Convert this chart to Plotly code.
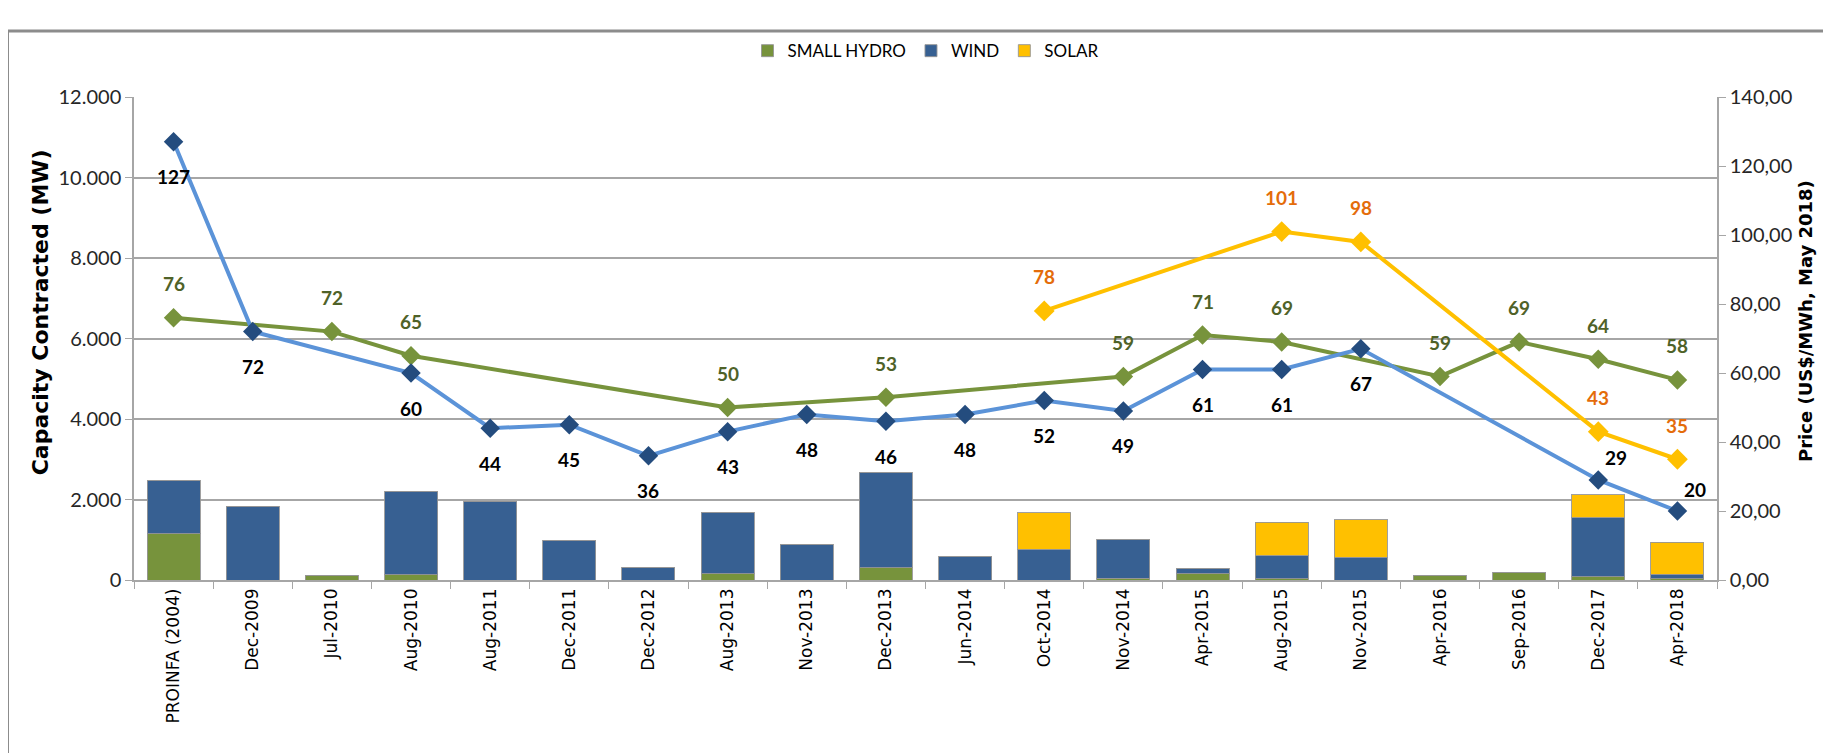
import plotly.graph_objects as go

categories = ["PROINFA (2004)", "Dec-2009", "Jul-2010", "Aug-2010", "Aug-2011", "Dec-2011",
              "Dec-2012", "Aug-2013", "Nov-2013", "Dec-2013", "Jun-2014", "Oct-2014",
              "Nov-2014", "Apr-2015", "Aug-2015", "Nov-2015", "Apr-2016", "Sep-2016",
              "Dec-2017", "Apr-2018"]

# Contracted capacity (MW)
hydro_mw = [1150, 0, 100, 130, 0, 0, 0, 155, 0, 300, 0, 0, 40, 160, 30, 0, 100, 180, 75, 35]
wind_mw = [1310, 1830, 0, 2070, 1960, 990, 300, 1530, 880, 2370, 580, 770, 960, 115, 570, 560, 0, 0, 1470, 110]
solar_mw = [0, 0, 0, 0, 0, 0, 0, 0, 0, 0, 0, 900, 0, 0, 830, 940, 0, 0, 570, 795]

# Prices (US$/MWh, May 2018)
wind_price = [127, 72, None, 60, 44, 45, 36, 43, 48, 46, 48, 52, 49, 61, 61, 67, None, None, 29, 20]
hydro_price = [76, None, 72, 65, None, None, None, 50, None, 53, None, None, 59, 71, 69, None, 59, 69, 64, 58]
solar_price = [None, None, None, None, None, None, None, None, None, None, None, 78, None, None, 101, 98, None, None, 43, 35]

left_ticks = [0, 2000, 4000, 6000, 8000, 10000, 12000]
left_ticktext = ["0", "2.000", "4.000", "6.000", "8.000", "10.000", "12.000"]
right_ticks = [0, 20, 40, 60, 80, 100, 120, 140]
right_ticktext = ["0,00", "20,00", "40,00", "60,00", "80,00", "100,00", "120,00", "140,00"]

GREEN = "#77933C"
NAVY = "#376092"
GOLD = "#FFC000"
LINE_BLUE = "#5B93D8"
MARK_BLUE = "#244C7E"
LBL_GREEN = "#4F6228"
LBL_ORANGE = "#E46C0A"

label_font = "Lato"
title_font = "DejaVu Sans"

fig = go.Figure()

bar_edge = dict(color="rgba(150,150,150,0.9)", width=1)
fig.add_trace(go.Bar(x=categories, y=hydro_mw, name="SMALL HYDRO", marker=dict(color=GREEN, line=bar_edge)))
fig.add_trace(go.Bar(x=categories, y=wind_mw, name="WIND", marker=dict(color=NAVY, line=bar_edge)))
fig.add_trace(go.Bar(x=categories, y=solar_mw, name="SOLAR", marker=dict(color=GOLD, line=bar_edge)))

fig.add_trace(go.Scatter(x=categories, y=hydro_price, yaxis="y2", mode="lines+markers", connectgaps=True,
                         line=dict(color=GREEN, width=4),
                         marker=dict(symbol="diamond", size=15, color=GREEN),
                         showlegend=False, hoverinfo="skip"))
fig.add_trace(go.Scatter(x=categories, y=wind_price, yaxis="y2", mode="lines+markers", connectgaps=True,
                         line=dict(color=LINE_BLUE, width=4),
                         marker=dict(symbol="diamond", size=15, color=MARK_BLUE),
                         showlegend=False, hoverinfo="skip"))
fig.add_trace(go.Scatter(x=categories, y=solar_price, yaxis="y2", mode="lines+markers", connectgaps=True,
                         line=dict(color=GOLD, width=4),
                         marker=dict(symbol="diamond", size=16, color=GOLD),
                         showlegend=False, hoverinfo="skip"))

annotations = []
n = len(categories)
for i, (c, v) in enumerate(zip(categories, wind_price)):
    if v is None:
        continue
    if i >= n - 2:
        xs, ys = 18, 22
    else:
        xs, ys = 0, -35
    annotations.append(dict(x=c, y=v, xref="x", yref="y2", text=str(v), showarrow=False,
                            xshift=xs, yshift=ys,
                            font=dict(family=label_font, size=19, color="#000000", weight="bold")))
for c, v in zip(categories, hydro_price):
    if v is None:
        continue
    annotations.append(dict(x=c, y=v, xref="x", yref="y2", text=str(v), showarrow=False,
                            yshift=34,
                            font=dict(family=label_font, size=19, color=LBL_GREEN, weight="bold")))
for c, v in zip(categories, solar_price):
    if v is None:
        continue
    annotations.append(dict(x=c, y=v, xref="x", yref="y2", text=str(v), showarrow=False,
                            yshift=34,
                            font=dict(family=label_font, size=19, color=LBL_ORANGE, weight="bold")))

annotations.append(dict(text="Capacity Contracted (MW)", xref="paper", yref="paper", x=-0.0585, y=0.555,
                        xanchor="center", yanchor="middle",
                        textangle=-90, showarrow=False,
                        font=dict(family=title_font, size=22, color="#000000", weight="bold")))
annotations.append(dict(text="Price (US$/MWh, May 2018)", xref="paper", yref="paper", x=1.0555, y=0.536,
                        xanchor="center", yanchor="middle",
                        textangle=-90, showarrow=False,
                        font=dict(family=title_font, size=18, color="#000000", weight="bold")))

shapes = [
    dict(type="line", xref="paper", yref="paper", x0=-0.0796, x1=1.12, y0=1.1366, y1=1.1366,
         line=dict(color="#8C8C8C", width=3)),
    dict(type="line", xref="paper", yref="paper", x0=-0.0796, x1=-0.0796, y0=1.1366, y1=-0.4,
         line=dict(color="#8C8C8C", width=2)),
]

fig.update_layout(
    width=1831, height=753,
    margin=dict(l=126, r=122, t=89, b=181, autoexpand=False),
    paper_bgcolor="white", plot_bgcolor="white",
    barmode="stack", bargap=0.33,
    font=dict(family="Lato", color="#1a1a1a"),
    legend=dict(orientation="h", x=0.5, xanchor="center", y=1.095, yanchor="middle",
                font=dict(family=label_font, size=17, color="#000000"),
                itemwidth=30, traceorder="normal"),
    xaxis=dict(type="category", range=[-0.5, len(categories) - 0.5], tickangle=-90, ticks="outside",
               tickson="boundaries", ticklen=7,
               tickcolor="#A6A6A6", showline=True, linecolor="#A6A6A6", linewidth=1.5, automargin=False,
               showgrid=False, tickfont=dict(family=title_font, size=17, color="#000000")),
    yaxis=dict(range=[0, 12000], tickvals=left_ticks, ticktext=left_ticktext, ticks="outside", ticklen=7,
               tickcolor="#A6A6A6", showline=True, linecolor="#A6A6A6", linewidth=1.5, automargin=False,
               showgrid=True, gridcolor="#A6A6A6", gridwidth=1.5, zeroline=False,
               tickfont=dict(family="Lato", size=20, color="#262626")),
    yaxis2=dict(range=[0, 140], tickvals=right_ticks, ticktext=right_ticktext, overlaying="y", side="right",
                ticks="outside", ticklen=7, tickcolor="#A6A6A6", showline=True, linecolor="#A6A6A6",
                linewidth=1.5, showgrid=False, zeroline=False, automargin=False,
                tickfont=dict(family="Lato", size=20, color="#262626")),
    annotations=annotations,
    shapes=shapes,
)

fig.write_html("out.html")
